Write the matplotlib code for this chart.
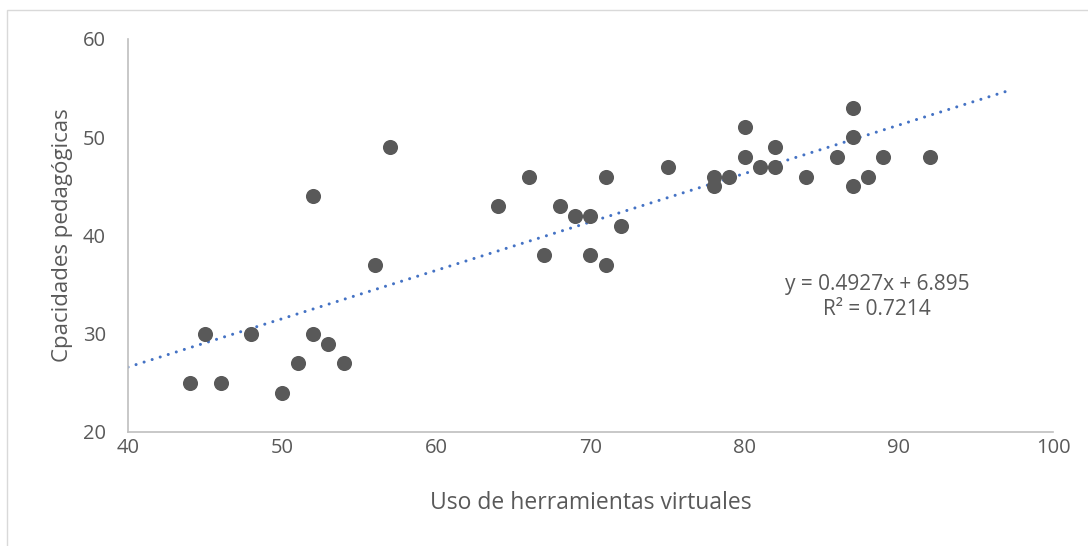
import matplotlib.pyplot as plt
from matplotlib.patches import Rectangle

# Datos
uso = [44, 45, 46, 48, 50, 51, 52, 52, 53, 54, 56, 57,
       64, 66, 67, 68, 69, 70, 70, 71, 71, 72, 75,
       78, 78, 79, 80, 80, 81, 82, 82, 84, 86, 87, 87, 87, 88, 89, 92]
capacidades = [25, 30, 25, 30, 24, 27, 44, 30, 29, 27, 37, 49,
               43, 46, 38, 43, 42, 42, 38, 46, 37, 41, 47,
               46, 45, 46, 51, 48, 47, 49, 47, 46, 48, 53, 50, 45, 46, 48, 48]

# Linea de tendencia (ecuacion mostrada en el grafico)
pendiente = 0.4927
intercepto = 6.895
r2 = 0.7214
rango_tendencia = [40, 97]

gris = '#595959'
plt.rcParams['font.family'] = ['Open Sans', 'DejaVu Sans']

fig = plt.figure(figsize=(10.88, 5.46), dpi=100)
ax = fig.add_axes([128 / 1088, 1 - 432 / 546, (1053 - 128) / 1088, (432 - 39) / 546])

# Borde exterior del area del grafico
fig.patches.append(Rectangle((7 / 1088, -0.05), 1.1, 1 - 10 / 546 + 0.05,
                             transform=fig.transFigure, fill=False,
                             edgecolor='#d9d9d9', linewidth=1))

ax.scatter(uso, capacidades, s=118, color=gris, zorder=3, linewidths=0)

xs = rango_tendencia
ys = [pendiente * x + intercepto for x in xs]
ax.plot(xs, ys, color='#4472C4', linewidth=2.2,
        linestyle=(0, (0.01, 2.75)), dash_capstyle='round', zorder=2)

ax.set_xlim(40, 100)
ax.set_ylim(20, 60)
ax.set_xticks(range(40, 101, 10))
ax.set_yticks(range(20, 61, 10))

for s in ['top', 'right']:
    ax.spines[s].set_visible(False)
for s in ['left', 'bottom']:
    ax.spines[s].set_color('#bfbfbf')
    ax.spines[s].set_linewidth(1.2)

ax.tick_params(length=0, labelsize=14.5, labelcolor=gris)
ax.tick_params(axis='x', pad=4)
ax.tick_params(axis='y', pad=16)

ax.set_xlabel('Uso de herramientas virtuales', fontsize=16.5, color=gris, labelpad=24)
ax.set_ylabel('Cpacidades pedagógicas', fontsize=16, color=gris, labelpad=7)

ax.text(0.81, 0.3435, f'y = {pendiente}x + {intercepto}\nR² = {r2}',
        transform=ax.transAxes, ha='center', va='center', fontsize=15,
        color=gris, linespacing=1.25)

fig.savefig('out.png', dpi=100)
